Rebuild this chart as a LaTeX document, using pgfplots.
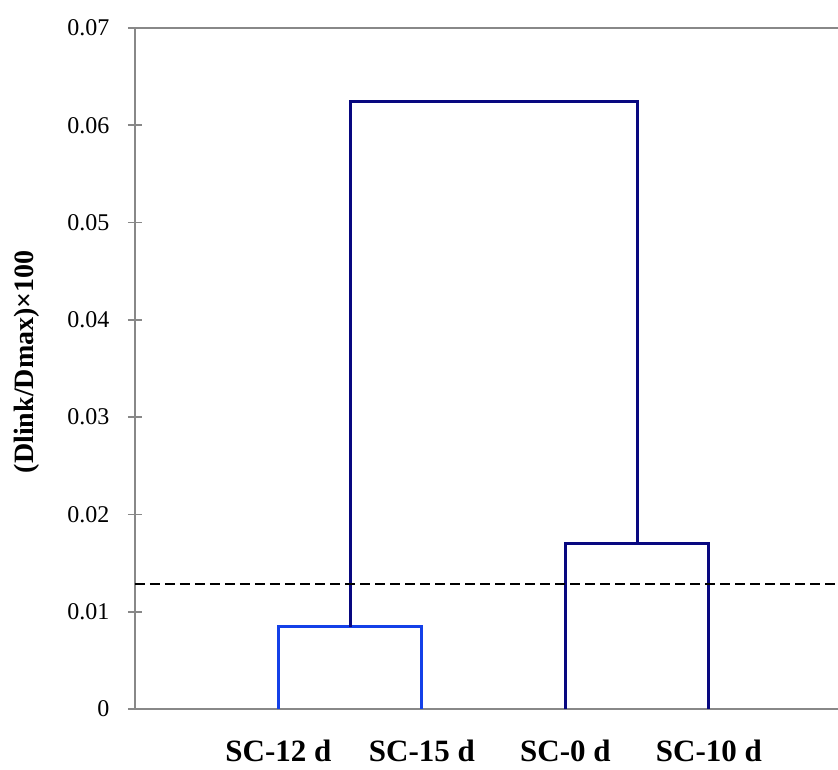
\documentclass[border=0pt]{standalone}
\usepackage{fontspec}
\setmainfont{Liberation Serif}
\usepackage{pgfplots}
\pgfplotsset{compat=1.18}
\definecolor{navy}{RGB}{8,8,128}
\definecolor{lblue}{RGB}{20,64,232}
\definecolor{axgray}{RGB}{136,136,136}
\begin{document}
\begin{tikzpicture}
\useasboundingbox (-135pt,-60pt) rectangle (703pt,709pt);
\begin{axis}[
  at={(0,0)}, anchor=south west,
  scale only axis, width=703pt, height=681pt,
  xmin=0, xmax=4.9, ymin=0, ymax=0.07,
  axis x line=box, axis y line=left,
  axis line style={axgray, line width=1.8pt, -},
  xtick={1,2,3,4},
  xticklabels={SC-12 d, SC-15 d, SC-0 d, SC-10 d},
  x tick style={draw=none},
  xticklabel style={font=\fontsize{31}{36}\selectfont\bfseries, anchor=base, inner sep=0pt, yshift=-45pt},
  ytick={0,0.01,...,0.07},
  scaled y ticks=false,
  y tick style={axgray, line width=1.8pt},
  major tick length=14pt, tick align=center,
  yticklabel={\pgfmathprintnumber{\tick}},
  /pgf/number format/.cd, fixed, precision=2, assume math mode=true,
  /pgfplots/.cd,
  yticklabel style={font=\fontsize{24}{28}\selectfont, anchor=east, xshift=-15pt},
  ylabel={(Dlink/Dmax)×100},
  ylabel style={font=\fontsize{28}{32}\selectfont\bfseries, at={(axis description cs:-0.1536,0.51)}, anchor=center},
  clip=false,
]
\addplot[lblue, line width=3pt] coordinates {(1,0) (1,0.00843) (2,0.00843) (2,0)};
\addplot[navy, line width=3pt] coordinates {(3,0) (3,0.01706) (4,0.01706) (4,0)};
\addplot[navy, line width=3pt] coordinates {(1.5,0.00843) (1.5,0.0624) (3.5,0.0624) (3.5,0.01706)};
\addplot[black, line width=2.8pt, dash pattern=on 10pt off 5pt] coordinates {(0,0.01285) (4.9,0.01285)};
\end{axis}
\end{tikzpicture}
\end{document}
